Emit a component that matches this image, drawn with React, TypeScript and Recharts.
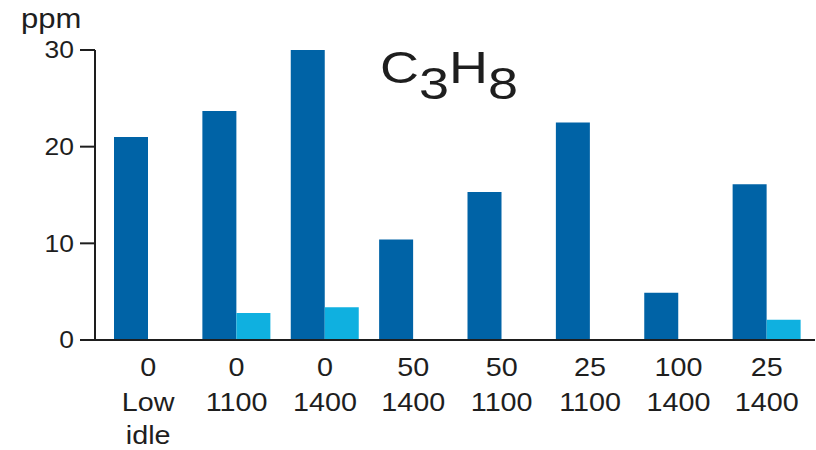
import React from "react";
import { BarChart, Bar, XAxis, YAxis } from "recharts";

// additive dose (top line) and engine speed (bottom line) per test condition
const doseLabels = ["0", "0", "0", "50", "50", "25", "100", "25"];
const speedLabels = ["Low idle", "1100", "1400", "1400", "1100", "1100", "1400", "1400"];
const baseline = [21.0, 23.7, 30.0, 10.4, 15.3, 22.5, 4.9, 16.1];
const treated = [0, 2.8, 3.4, 0, 0, 0, 0, 2.1];
const yTicks = [0, 10, 20, 30];

const DARK = "#0063a6";
const LIGHT = "#0fb0e0";
const INK = "#1e1e1e";
const FONT = "'Liberation Sans', Arial, sans-serif";
const STRETCH = 1.15;

const data = doseLabels.map((dose, i) => ({
  key: i,
  dose,
  speed: speedLabels[i],
  baseline: baseline[i],
  treated: treated[i],
}));

function CategoryTick(props: any) {
  const { x, y, payload } = props;
  const row = data[payload.value];
  const lines = [row.dose, ...row.speed.split(" ")];
  const rowY = [28, 63, 96];
  return (
    <g transform={`translate(${x},${y}) scale(${STRETCH},1)`}>
      {lines.map((line: string, i: number) => (
        <text
          key={i}
          x={0}
          y={rowY[i]}
          textAnchor="middle"
          fontFamily={FONT}
          fontSize={25}
          fill={INK}
        >
          {line}
        </text>
      ))}
    </g>
  );
}

function ValueTick(props: any) {
  const { x, y, payload } = props;
  return (
    <g transform={`translate(${x},${y}) scale(${STRETCH},1)`}>
      <text x={0} y={0} dy="0.36em" textAnchor="end" fontFamily={FONT} fontSize={23} fill={INK}>
        {payload.value}
      </text>
    </g>
  );
}

export default function App() {
  return (
    <div style={{ position: "absolute", left: 0, top: 0, width: 816, height: 450, background: "#fff" }}>
      <BarChart
        width={816}
        height={450}
        data={data}
        margin={{ top: 50, right: 1, left: 0, bottom: 0 }}
        barSize={34}
        barGap={0}
      >
        <XAxis
          dataKey="key"
          type="category"
          padding={{ left: 9, right: 4 }}
          tickLine={false}
          axisLine={{ stroke: INK, strokeWidth: 2 }}
          tick={<CategoryTick />}
          interval={0}
          height={110}
        />
        <YAxis
          width={95}
          domain={[0, 30]}
          ticks={yTicks}
          tickSize={15}
          tickMargin={6}
          axisLine={{ stroke: INK, strokeWidth: 2 }}
          tickLine={{ stroke: INK, strokeWidth: 2 }}
          tick={<ValueTick />}
        />
        <Bar dataKey="baseline" fill={DARK} isAnimationActive={false} />
        <Bar dataKey="treated" fill={LIGHT} isAnimationActive={false} />
      </BarChart>
      <svg
        width={816}
        height={450}
        style={{ position: "absolute", left: 0, top: 0, pointerEvents: "none" }}
      >
        <text
          transform={`translate(21,28) scale(${STRETCH},1)`}
          fontFamily={FONT}
          fontSize={27}
          fill={INK}
        >
          ppm
        </text>
        <text
          transform="translate(380,83) scale(1.2,1)"
          fontFamily={FONT}
          fontSize={45}
          fill={INK}
        >
          C
          <tspan dy={16}>3</tspan>
          <tspan dy={-16}>H</tspan>
          <tspan dy={16}>8</tspan>
        </text>
      </svg>
    </div>
  );
}
